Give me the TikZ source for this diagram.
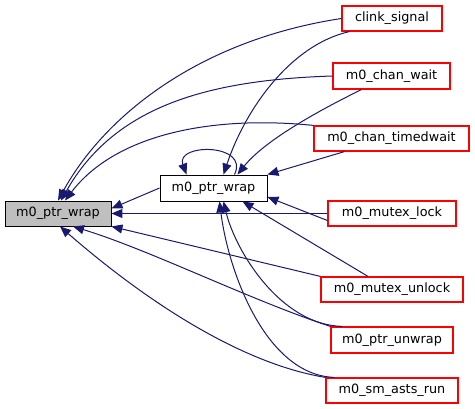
\documentclass[tikz,border=0pt]{standalone}
\usepackage{fontspec}
\setmainfont{DejaVu Sans}
\usetikzlibrary{arrows.meta}
\definecolor{edgeblue}{HTML}{191970}
\definecolor{boxgray}{HTML}{BFBFBF}
\begin{document}
\begin{tikzpicture}[x=1pt,y=-1pt,>={Triangle[length=11pt,width=9pt]},
  line width=0.9pt,font=\fontsize{12.8}{15}\selectfont,
  fn/.style={draw,inner sep=0pt,minimum height=25pt},
  caller/.style={fn,draw=red,fill=white,line width=1.2pt},
  call/.style={draw=edgeblue,->,line width=1pt}]
  \useasboundingbox (0,0) rectangle (475,409);

  % 被调用的函数
  \node[fn,fill=boxgray,minimum width=106pt] (main) at (58,213.5) {m0\_ptr\_wrap};
  \node[fn,fill=white,minimum width=107pt,minimum height=26pt] (mid) at (213.5,188) {m0\_ptr\_wrap};

  % 调用者
  \node[caller,minimum width=100pt] (clink) at (392,18.5) {clink\_signal};
  \node[caller,minimum width=117pt,minimum height=26pt] (cwait) at (391.5,76) {m0\_chan\_wait};
  \node[caller,minimum width=155pt] (ctimed) at (391.5,138.5) {m0\_chan\_timedwait};
  \node[caller,minimum width=128pt] (mlock) at (392,213.5) {m0\_mutex\_lock};
  \node[caller,minimum width=142pt] (munlock) at (392,289.5) {m0\_mutex\_unlock};
  \node[caller,minimum width=122pt,minimum height=26pt] (punwrap) at (392,340) {m0\_ptr\_unwrap};
  \node[caller,minimum width=132pt] (asts) at (392,390.5) {m0\_sm\_asts\_run};

  % 指向左边的 m0_ptr_wrap
  \draw[call] (clink.west) .. controls (200,40) and (105,115) .. (main.north);
  \draw[call] (cwait.west) .. controls (210,80) and (115,105) .. ([xshift=3pt]main.north);
  \draw[call] (ctimed.north west) .. controls (210,115) and (115,135) .. ([xshift=7pt]main.north);
  \draw[call] (mid.west) -- ([yshift=5pt]main.east);
  \draw[call] (mlock.west) -- (main.east);
  \draw[call] (munlock.north west) -- (main.south east);
  \draw[call] (punwrap.north west) .. controls (250,300) and (150,250) .. ([xshift=15pt]main.south);
  \draw[call] (asts.north west) .. controls (220,360) and (110,270) .. ([xshift=2pt]main.south);

  % 指向中间的 m0_ptr_wrap
  \draw[call] ([xshift=21pt]mid.north) .. controls (250,143) and (175,143) .. ([xshift=-27pt]mid.north);
  \draw[call] ([xshift=8pt]clink.south west) .. controls (290,45) and (245,110) .. ([xshift=10pt]mid.north);
  \draw[call] ([xshift=29pt]cwait.south west) .. controls (320,110) and (265,140) .. ([xshift=24pt]mid.north);
  \draw[call] ([xshift=31pt]ctimed.south west) -- (mid.north east);
  \draw[call] ([yshift=-7pt]mlock.west) -- ([yshift=-9pt]mid.east);
  \draw[call] ([xshift=-24pt]munlock.north) -- ([xshift=29pt]mid.south);
  \draw[call] ([xshift=12pt]punwrap.north west) .. controls (280,325) and (235,250) .. ([xshift=10pt]mid.south);
  \draw[call] ([xshift=9pt]asts.north west) .. controls (265,375) and (228,270) .. ([xshift=6pt]mid.south);
\end{tikzpicture}
\end{document}
